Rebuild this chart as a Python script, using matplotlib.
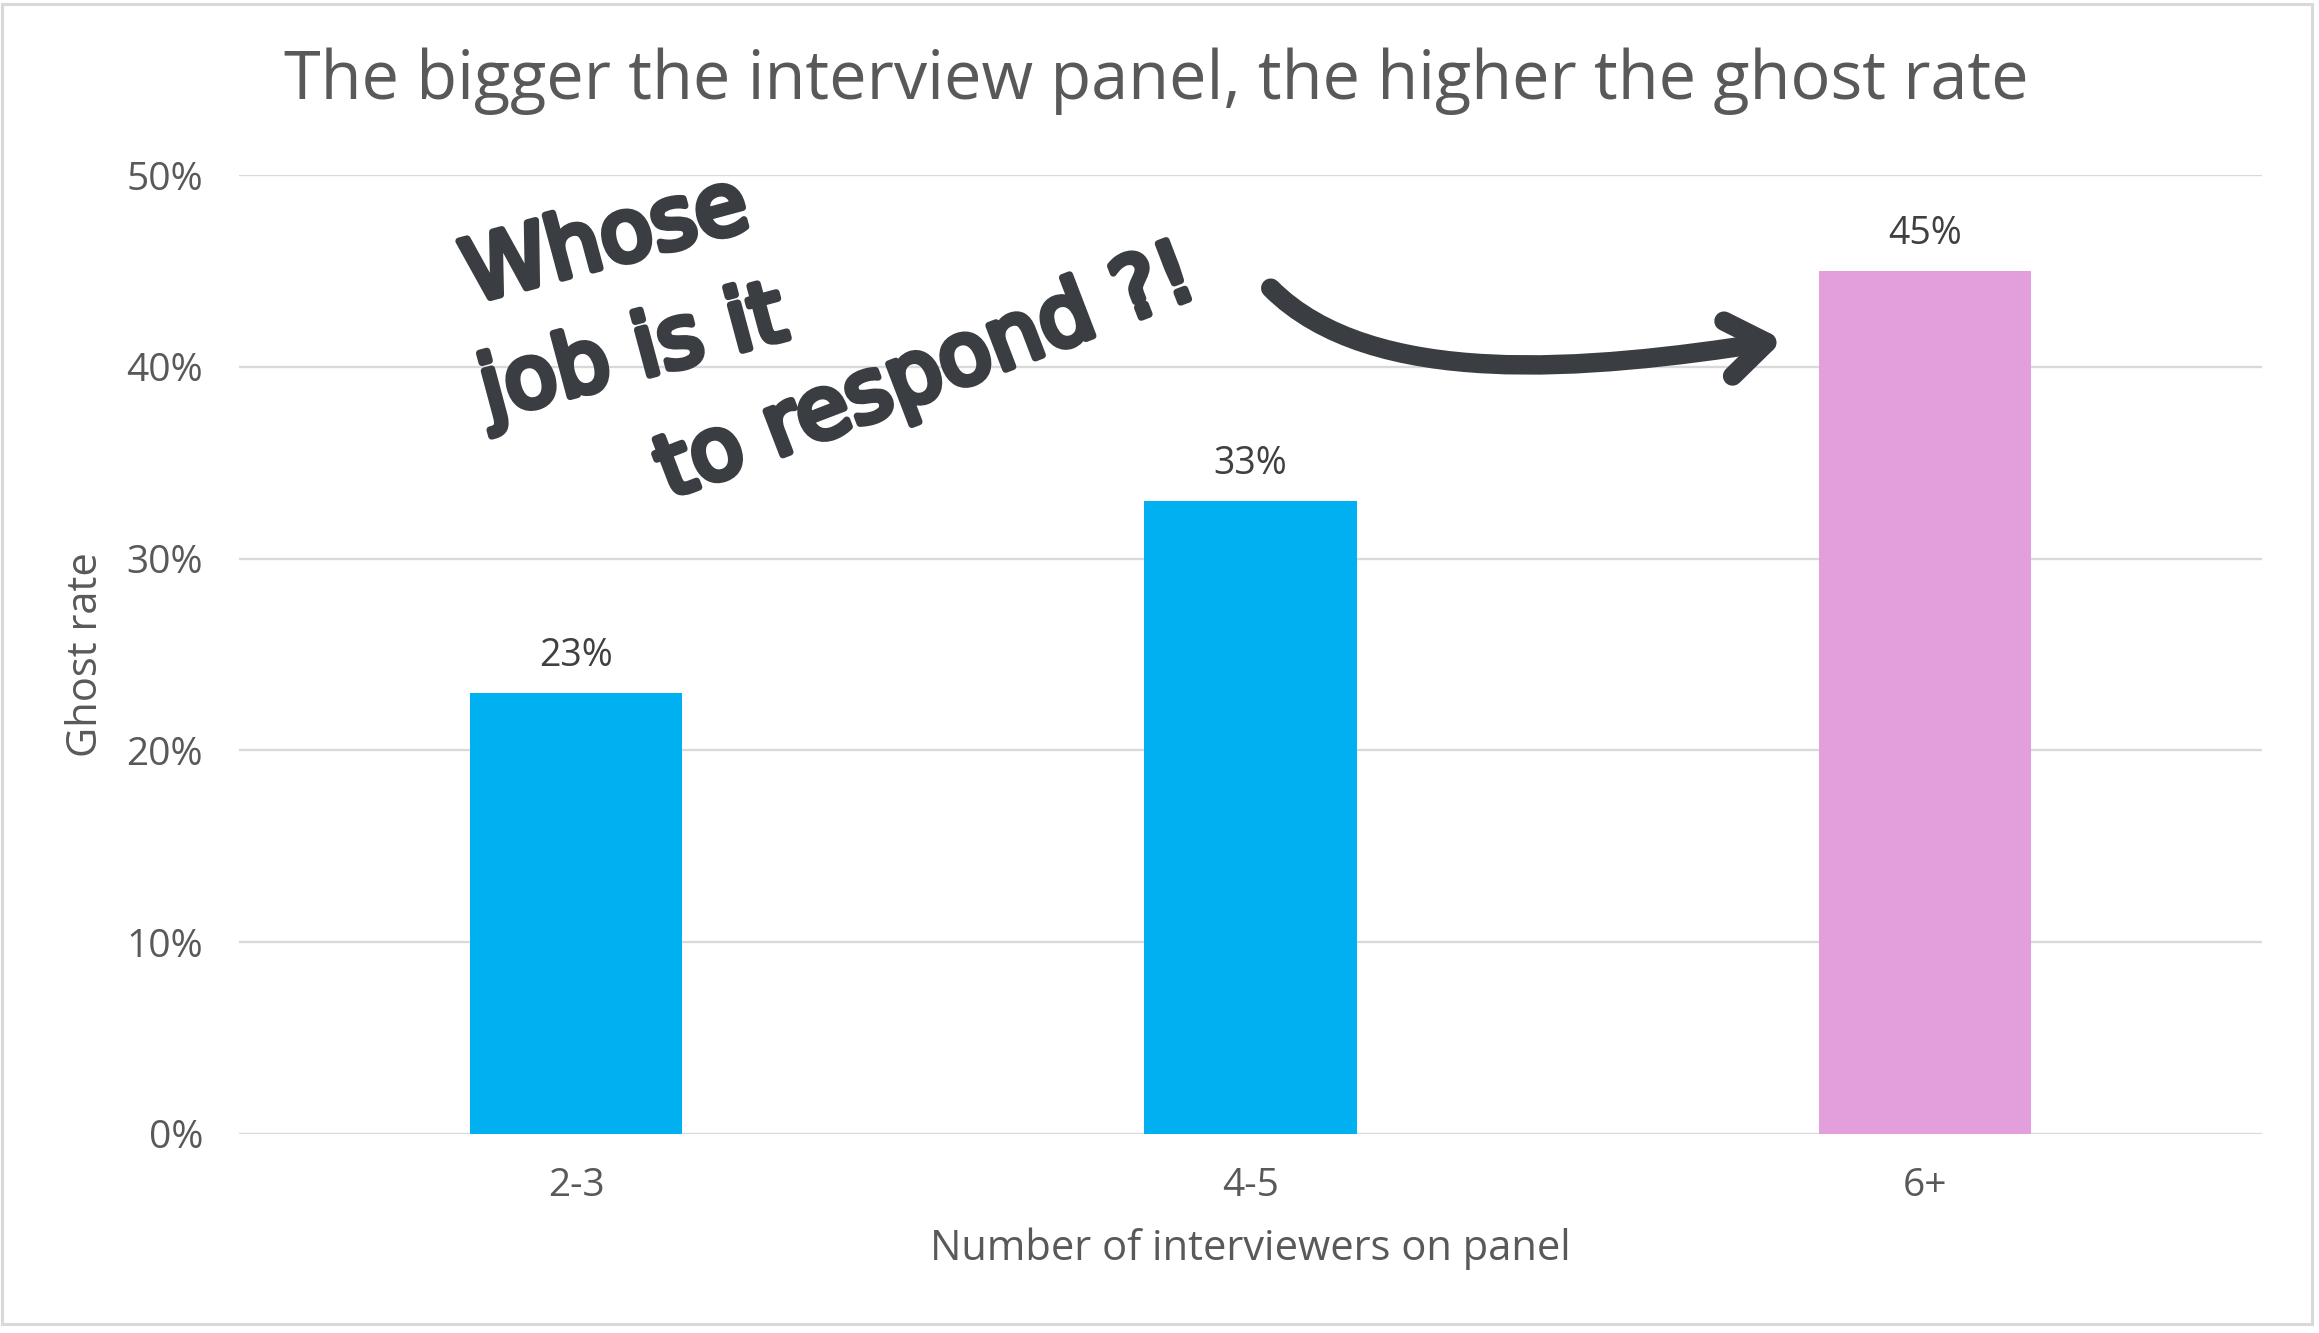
import matplotlib
matplotlib.use("Agg")
import matplotlib.pyplot as plt
import matplotlib.patheffects as pe
from matplotlib.patches import Rectangle, FancyArrowPatch
from matplotlib.path import Path

# Data
categories = ["2-3", "4-5", "6+"]
ghost_rate = [23, 33, 45]
bar_colors = ["#00B0F0", "#00B0F0", "#E39FDC"]
y_ticks = [0, 10, 20, 30, 40, 50]

text_color = "#595959"
grid_color = "#D9D9D9"
ink = "#3A3D41"

plt.rcParams["font.family"] = ["Open Sans", "DejaVu Sans"]

fig = plt.figure(figsize=(23.19, 13.33), dpi=100)
ax = fig.add_axes([239 / 2319, 1 - 1134 / 1333, (2262 - 239) / 2319, (1134 - 175) / 1333])

x = range(len(categories))
bars = ax.bar(x, ghost_rate, width=0.315, color=bar_colors, zorder=3)

ax.set_xlim(-0.5, 2.5)
ax.set_ylim(0, 50)
ax.set_yticks(y_ticks)
ax.set_yticklabels([f"{v}%" for v in y_ticks])
ax.set_xticks(list(x))
ax.set_xticklabels(categories)
ax.yaxis.grid(True, color=grid_color, linewidth=1.7, zorder=0)
ax.set_axisbelow(True)
for s in ax.spines.values():
    s.set_visible(False)
ax.tick_params(axis="both", length=0, labelsize=28, labelcolor=text_color)
ax.tick_params(axis="y", pad=26)
ax.tick_params(axis="x", pad=24)

# Value labels above bars
ax.bar_label(bars, labels=[f"{v}%" for v in ghost_rate], padding=13,
             fontsize=27, color="#404040")

ax.set_xlabel("Number of interviewers on panel", fontsize=30, color=text_color, labelpad=16)
ax.set_ylabel("Ghost rate", fontsize=30, color=text_color, labelpad=14)

fig.text(0.4985, 0.939, "The bigger the interview panel, the higher the ghost rate",
         ha="center", va="center", fontsize=48, color=text_color)

# Handwritten-style note
marker = [pe.withStroke(linewidth=5, foreground=ink, capstyle="round", joinstyle="round")]
note_style = dict(fontsize=62, color=ink, ha="center", va="center",
                  rotation_mode="anchor", family="DejaVu Sans", path_effects=marker, zorder=5)
ax.text(0.045, 46.5, "Whose", rotation=15, **note_style)
ax.text(0.085, 40.6, "job is it", rotation=15, **note_style)
ax.text(0.52, 39.6, "to respond ?!", rotation=21, **note_style)

# Curved arrow towards the 6+ bar
arrow_path = Path([(1.03, 44.1), (1.18, 38.8), (1.5, 39.8), (1.79, 41.4)],
                  [Path.MOVETO, Path.CURVE4, Path.CURVE4, Path.CURVE4])
arrow = FancyArrowPatch(path=arrow_path, arrowstyle="->,head_length=0.7,head_width=0.5",
                        mutation_scale=40, color=ink, linewidth=14,
                        capstyle="round", joinstyle="round", zorder=5)
ax.add_patch(arrow)

# Outer border
fig.patches.append(Rectangle((2 / 2319, 1 - 1324 / 1333), (2312 - 2) / 2319, (1324 - 4) / 1333,
                             transform=fig.transFigure, fill=False,
                             edgecolor=grid_color, linewidth=2.2))

fig.savefig("out.png", dpi=100, facecolor="white")
